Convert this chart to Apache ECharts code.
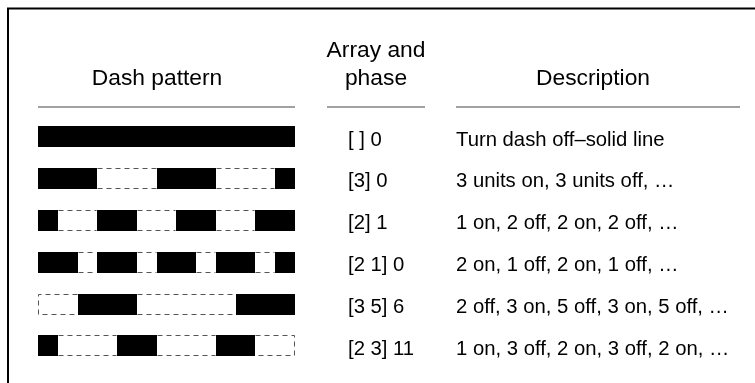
<!DOCTYPE html>
<html>
<head>
<meta charset="utf-8">
<style>
  html, body { margin: 0; padding: 0; background: #fff; }
  #chart { width: 755px; height: 383px; }
</style>
<script src="https://cdn.jsdelivr.net/npm/echarts@6/dist/echarts.min.js"></script>
</head>
<body>
<div id="chart"></div>
<script>
// ---- data ----
const headers = ['Dash pattern', 'Array and\nphase', 'Description'];
const arrayPhase = ['[ ] 0', '[3] 0', '[2] 1', '[2 1] 0', '[3 5] 6', '[2 3] 11'];
const descriptions = [
  'Turn dash off\u2013solid line',
  '3 units on, 3 units off, \u2026',
  '1 on, 2 off, 2 on, 2 off, \u2026',
  '2 on, 1 off, 2 on, 1 off, \u2026',
  '2 off, 3 on, 5 off, 3 on, 5 off, \u2026',
  '1 on, 3 off, 2 on, 3 off, 2 on, \u2026'
];
const patternLength = 13; // units shown in each sample
// "on" segments [start, end] in units, per row
const onSegments = [
  [[0, 13]],
  [[0, 3], [6, 9], [12, 13]],
  [[0, 1], [3, 5], [7, 9], [11, 13]],
  [[0, 2], [3, 5], [6, 8], [9, 11], [12, 13]],
  [[2, 5], [10, 13]],
  [[0, 1], [4, 6], [9, 11]]
];

// ---- build ----
const FONT = '"Liberation Sans", Arial, Helvetica, sans-serif';
const rowData = arrayPhase.map((_, r) => [0, patternLength, r]);

// gaps ("off" parts) are whatever the "on" segments leave uncovered
function offSegments(segs) {
  const out = [];
  let pos = 0;
  segs.forEach(function (s) { if (s[0] > pos) out.push([pos, s[0]]); pos = Math.max(pos, s[1]); });
  if (pos < patternLength) out.push([pos, patternLength]);
  return out;
}

const ARRAY_X = 348, DESC_X = 456, TEXT_DY = 3.5;

const chart = echarts.init(document.getElementById('chart'), null, { renderer: 'canvas' });
chart.setOption({
  animation: false,
  backgroundColor: '#fff',
  grid: { left: 38, top: 115.5, width: 257, height: 251.4 },
  xAxis: { type: 'value', min: 0, max: patternLength, show: false },
  yAxis: { type: 'category', data: arrayPhase, inverse: true, show: false },
  graphic: [
    { type: 'rect', shape: { x: 8, y: 8.5, width: 900, height: 600 }, style: { fill: 'none', stroke: '#000', lineWidth: 2 }, silent: true },
    { type: 'text', x: 157, y: 79, style: { text: headers[0], font: '22.8px ' + FONT, fill: '#000', align: 'center', verticalAlign: 'middle' } },
    { type: 'text', x: 376, y: 65, style: { text: headers[1], font: '22.8px ' + FONT, fill: '#000', align: 'center', verticalAlign: 'middle', lineHeight: 28 } },
    { type: 'text', x: 593, y: 79, style: { text: headers[2], font: '22.8px ' + FONT, fill: '#000', align: 'center', verticalAlign: 'middle' } },
    { type: 'line', shape: { x1: 38, y1: 107, x2: 295, y2: 107 }, style: { stroke: '#444', lineWidth: 1.2 } },
    { type: 'line', shape: { x1: 327, y1: 107, x2: 425, y2: 107 }, style: { stroke: '#444', lineWidth: 1.2 } },
    { type: 'line', shape: { x1: 456, y1: 107, x2: 740, y2: 107 }, style: { stroke: '#444', lineWidth: 1.2 } }
  ],
  series: [
    {
      type: 'custom',
      name: 'dash samples',
      data: rowData,
      renderItem: function (params, api) {
        const r = api.value(2);
        const p0 = api.coord([api.value(0), r]);
        const h = Math.round(api.size([0, 1])[1] * 0.5);
        const top = Math.round(p0[1] - h / 2);
        const bot = top + h;
        const X = function (u) { return Math.round(api.coord([u, r])[0]); };
        const children = [];
        offSegments(onSegments[r]).forEach(function (s) {
          const a = X(s[0]) + 0.5, b = X(s[1]) - 0.5;
          let pts;
          if (s[0] === 0) pts = [[b, top + 0.5], [a, top + 0.5], [a, bot - 0.5], [b, bot - 0.5]];
          else if (s[1] === patternLength) pts = [[a, top + 0.5], [b, top + 0.5], [b, bot - 0.5], [a, bot - 0.5]];
          else {
            children.push({ type: 'line', shape: { x1: a, y1: top + 0.5, x2: b, y2: top + 0.5 }, style: { stroke: '#555', lineWidth: 1, lineDash: [5, 4] } });
            pts = [[a, bot - 0.5], [b, bot - 0.5]];
          }
          children.push({ type: 'polyline', shape: { points: pts }, style: { fill: 'none', stroke: '#555', lineWidth: 1, lineDash: [5, 4] } });
        });
        onSegments[r].forEach(function (s) {
          const a = X(s[0]), b = X(s[1]);
          children.push({
            type: 'rect',
            shape: { x: a, y: top, width: b - a, height: h },
            style: { fill: '#000' }
          });
        });
        children.push(
          { type: 'text', x: ARRAY_X, y: p0[1] + TEXT_DY, style: { text: arrayPhase[r], font: '20.3px ' + FONT, fill: '#000', align: 'left', verticalAlign: 'middle' } },
          { type: 'text', x: DESC_X, y: p0[1] + TEXT_DY, style: { text: descriptions[r], font: '20.3px ' + FONT, fill: '#000', align: 'left', verticalAlign: 'middle' } }
        );
        return { type: 'group', children: children };
      }
    }
  ]
});
</script>
</body>
</html>
